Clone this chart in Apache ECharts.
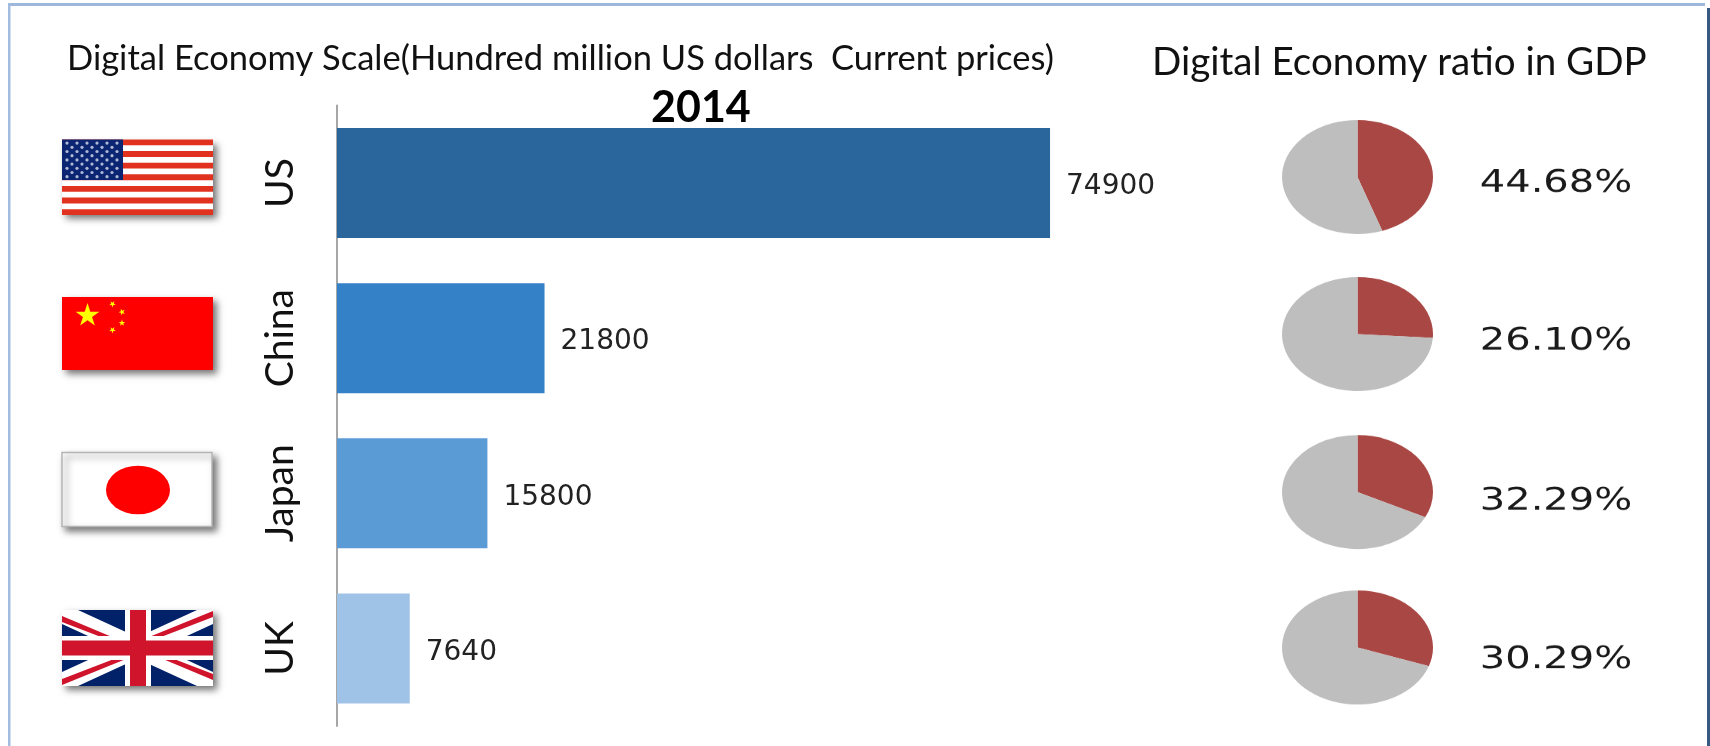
<!DOCTYPE html>
<html>
<head>
<meta charset="utf-8">
<style>
  html, body { margin: 0; padding: 0; background: #fff; overflow: hidden; }
  #main { position: absolute; left: 0; top: 0; width: 1710px; height: 746px; }
  /* The ratio pies are drawn flattened, so their layer is squashed vertically. */
  #pies { position: absolute; left: 0; top: 0; width: 1710px; height: 988px;
          transform: scaleY(0.755); transform-origin: 0 0; pointer-events: none; }
</style>
<script src="https://cdn.jsdelivr.net/npm/echarts@6/dist/echarts.min.js"></script>
</head>
<body>
<div id="main"></div>
<div id="pies"></div>
<script>
const countries = ['US', 'China', 'Japan', 'UK'];
const scaleValues = [74900, 21800, 15800, 7640];
const ratioValues = [44.68, 26.10, 32.29, 30.29];
const barColors = ['#2A669C', '#3581C8', '#5B9BD5', '#9FC3E7'];
const scaleTitle = 'Digital Economy Scale(Hundred million US dollars  Current prices)';
const ratioTitle = 'Digital Economy ratio in GDP';
const yearLabel = '2014';

const SQUASH = 0.755;
const pieCentreY = [177, 334, 492, 647.5];
const pieLabelY = [184, 342, 502, 660];

function star(cx, cy, R, rot) {
  const pts = [];
  for (let i = 0; i < 10; i++) {
    const r = i % 2 ? R * 0.382 : R;
    const a = -Math.PI / 2 + (rot || 0) + i * Math.PI / 5;
    pts.push([cx + r * Math.cos(a), cy + r * Math.sin(a)]);
  }
  return { type: 'polygon', shape: { points: pts }, style: { fill: '#FFFF00' } };
}

function rect(x, y, w, h, fill) {
  return { type: 'rect', shape: { x, y, width: w, height: h }, style: { fill } };
}

function flagBase(w, h, fill, stroke) {
  return {
    type: 'rect',
    shape: { x: 0, y: 0, width: w, height: h },
    style: {
      fill, stroke: stroke || null, lineWidth: stroke ? 1.5 : 0,
      shadowBlur: 7, shadowOffsetX: 4, shadowOffsetY: 4, shadowColor: 'rgba(0,0,0,0.55)'
    }
  };
}

function usFlag(x, y) {
  const w = 151, h = 75.5, kids = [flagBase(w, h, '#FFFFFF')];
  for (let i = 0; i < 13; i += 2) kids.push(rect(0, i * h / 13, w, h / 13, '#E1321F'));
  kids.push(rect(0, 0, 61, 40.5, '#0B2573'));
  for (let row = 0; row < 9; row++) {
    const n = row % 2 ? 5 : 6;
    for (let c = 0; c < n; c++) {
      kids.push({
        type: 'circle',
        shape: { cx: (row % 2 ? 10 : 5) + c * 10, cy: 3.6 + row * 4.2, r: 1.6 },
        style: { fill: '#AEB9D6' }
      });
    }
  }
  return { type: 'group', x, y, children: kids };
}

function cnFlag(x, y) {
  return {
    type: 'group', x, y,
    children: [
      flagBase(151, 73, '#FF0000'),
      star(25.5, 18.5, 12.5),
      star(50.5, 7, 3.5, 0.6),
      star(60, 15, 3.5, 0.9),
      star(60, 26, 3.5, 0),
      star(50.5, 33, 3.5, 0.6)
    ]
  };
}

function jpFlag(x, y) {
  return {
    type: 'group', x, y,
    children: [
      flagBase(150, 74, '#FFFFFF', '#B5B5B5'),
      { type: 'circle', x: 76, y: 37.5, scaleY: 0.76, shape: { cx: 0, cy: 0, r: 32 }, style: { fill: '#FF0000' } }
    ]
  };
}

function ukFlag(x, y) {
  const w = 151, h = 76;
  const poly = (points, fill) => ({ type: 'polygon', shape: { points }, style: { fill } });
  return {
    type: 'group', x, y,
    children: [
      flagBase(w, h, '#012169'),
      poly([[0, 0], [16, 0], [w, 62], [w, h], [135, h], [0, 14]], '#FFFFFF'),
      poly([[w, 0], [135, 0], [0, 62], [0, h], [16, h], [w, 14]], '#FFFFFF'),
      poly([[0, 6], [0, 12], [52, 32], [62, 32]], '#CF142B'),
      poly([[w, 70], [w, 64], [99, 44], [89, 44]], '#CF142B'),
      poly([[w, 1], [w, 7], [99, 27], [87, 27]], '#CF142B'),
      poly([[0, 75], [0, 69], [52, 49], [64, 49]], '#CF142B'),
      rect(63, 0, 26, h, '#FFFFFF'),
      rect(0, 26, w, 24, '#FFFFFF'),
      rect(68, 0, 16, h, '#CF142B'),
      rect(0, 30.5, w, 15, '#CF142B')
    ]
  };
}

const main = echarts.init(document.getElementById('main'), null, { renderer: 'canvas' });
main.setOption({
  animation: false,
  backgroundColor: '#FFFFFF',
  title: [
    { text: scaleTitle, left: 62, top: 36, textStyle: { fontFamily: 'Lato', fontSize: 34.5, fontWeight: 'normal', color: '#111' } },
    { text: ratioTitle, left: 1147, top: 38, textStyle: { fontFamily: 'Lato', fontSize: 38.6, fontWeight: 'normal', color: '#111' } },
    { text: yearLabel, left: 646, top: 82, textStyle: { fontFamily: 'Lato', fontSize: 43, fontWeight: 'bold', color: '#000' } }
  ],
  grid: { left: 337, top: 105.5, width: 714, height: 620.5, containLabel: false },
  xAxis: { type: 'value', min: 0, max: 75000, show: false },
  yAxis: {
    type: 'category',
    inverse: true,
    data: countries,
    axisLine: { show: true, lineStyle: { color: '#A6A6A6', width: 2 } },
    axisTick: { show: false },
    axisLabel: { rotate: 90, margin: 57, fontFamily: 'Lato', fontSize: 39, color: '#111', align: 'center', verticalAlign: 'middle' }
  },
  series: [{
    type: 'bar',
    barWidth: 110,
    silent: true,
    data: scaleValues.map((v, i) => ({ value: v, itemStyle: { color: barColors[i] } })),
    label: {
      show: true, position: 'right', distance: 16, offset: [0, 4],
      fontFamily: 'DejaVu Sans', fontSize: 28, color: '#222'
    }
  }],
  graphic: [
    { type: 'rect', shape: { x: 8, y: 3, width: 1697, height: 3 }, style: { fill: '#9DB8DB' }, silent: true },
    { type: 'rect', shape: { x: 8, y: 3, width: 2.5, height: 743 }, style: { fill: '#A3BDE0' }, silent: true },
    { type: 'rect', shape: { x: 1707, y: 8, width: 3, height: 738 }, style: { fill: '#375A83' }, silent: true },
    usFlag(62, 139.5),
    cnFlag(62, 297),
    jpFlag(62, 452.5),
    ukFlag(62, 610)
  ]
});

// Each pie carries its percentage as a label, so the label stretches with the layer.
const pies = echarts.init(document.getElementById('pies'), null, { renderer: 'canvas' });
pies.setOption({
  animation: false,
  series: ratioValues.map((r, i) => ({
    type: 'pie',
    silent: true,
    center: [1357.5, pieCentreY[i] / SQUASH],
    radius: [0, 75.5],
    startAngle: 90,
    clockwise: true,
    labelLine: { show: false },
    label: { show: false },
    data: [
      {
        value: r,
        itemStyle: { color: '#A94744' },
        label: {
          show: true, position: 'center',
          offset: [198.5, (pieLabelY[i] - pieCentreY[i]) / SQUASH],
          formatter: r.toFixed(2) + '%',
          fontFamily: 'DejaVu Sans', fontSize: 40, color: '#1A1A1A'
        }
      },
      { value: 100 - r, itemStyle: { color: '#BEBEBE' } }
    ]
  }))
});
</script>
</body>
</html>
